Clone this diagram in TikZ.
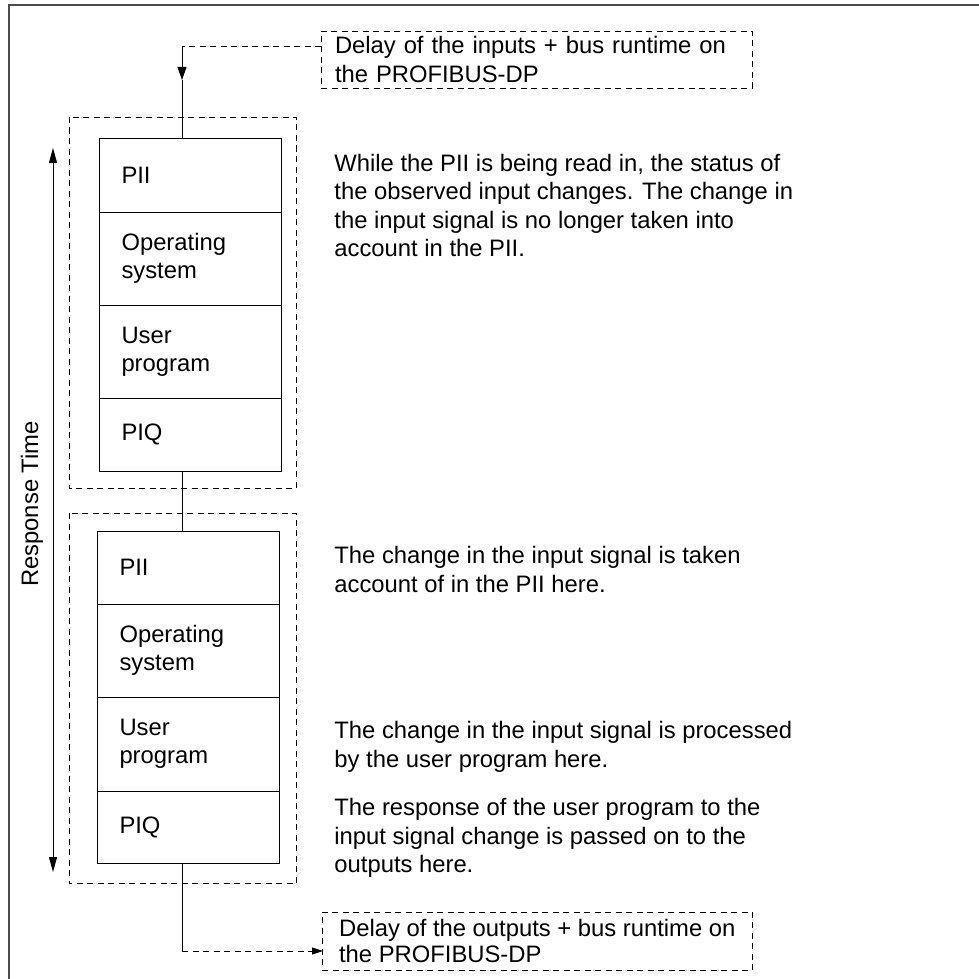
\documentclass[tikz,border=0pt]{standalone}
\usepackage{fontspec}
\setmainfont{Liberation Sans}
\usetikzlibrary{positioning,arrows.meta}

\tikzset{
  txt/.style={font=\fontsize{23.8}{28.3}\selectfont},
  row/.style={txt, draw, outer sep=0pt, minimum width=182pt, text width=138pt,
    inner xsep=22pt, inner ysep=0pt, align=left},
  dashline/.style={dashed, dash pattern=on 6pt off 4.5pt},
  delaybox/.style={dashline, draw, outer sep=0pt, inner ysep=0pt, align=left, anchor=north west},
  note/.style={txt, inner sep=0pt, align=left, anchor=north west},
}

\begin{document}
\begin{tikzpicture}[x=1pt,y=-1pt,line width=0.9pt]
\useasboundingbox (0,0) rectangle (978,979);
\draw[line width=1.4pt,black!70] (9,995) -- (9,5) -- (995,5);

% input delay
\node[delaybox,txt,minimum width=431pt,minimum height=57pt,text width=403pt,inner xsep=14pt]
  (indelay) at (321,31) {Delay of the inputs + bus runtime on\\the PROFIBUS-DP};

% first cycle
\draw[dashline] (69,117) rectangle (296,488);
\node[row,minimum height=74pt,anchor=north west] (pii1) at (99.5,138) {PII};
\node[row,minimum height=93pt,below=0pt of pii1] (os1) {Operating\\system};
\node[row,minimum height=93pt,below=0pt of os1] (up1) {User\\program};
\node[row,minimum height=73pt,below=0pt of up1] (piq1) {PIQ};

% second cycle
\draw[dashline] (69,513) rectangle (296,883.5);
\node[row,minimum height=73pt,anchor=north west] (pii2) at (97.5,531) {PII};
\node[row,minimum height=93pt,below=0pt of pii2] (os2) {Operating\\system};
\node[row,minimum height=94pt,below=0pt of os2] (up2) {User\\program};
\node[row,minimum height=72pt,below=0pt of up2] (piq2) {PIQ};

% output delay
\node[delaybox,minimum width=430.5pt,minimum height=58pt,inner xsep=4pt,
  font=\fontsize{23.8}{26}\selectfont]
  (outdelay) at (322,912) {Delay of the outputs + bus runtime on\\the PROFIBUS-DP};

% connectors
\coordinate (inbend) at (182,46);
\coordinate (inmid) at (182,80);
\coordinate (outbend) at (182,951);
\draw[dashline] (indelay.west |- inbend) -- (inbend);
\draw[-{Triangle[length=13pt,width=9pt]}] (inbend) -- (inmid);
\draw (inmid) -- (inmid |- pii1.north);
\draw (piq1.south -| inbend) -- (pii2.north -| inbend);
\draw (piq2.south -| outbend) -- (outbend);
\draw[dashline,-{Triangle[length=11pt,width=7pt]}] (outbend) -- ([xshift=1pt]outdelay.west |- outbend);

% response time
\coordinate (rttop) at (53,148);
\coordinate (rtbot) at (53,872);
\draw[{Triangle[length=15pt,width=8pt]}-{Triangle[length=15pt,width=8pt]}] (rtbot) -- (rttop);
\node[txt,rotate=90] (rtlabel) at (32,504) {Response Time};

% notes
\node[note] (note1) at (334,154) {While the PII is being read in, the status of\\the observed input changes. The change in\\the input signal is no longer taken into\\account in the PII.};
\node[note] (note2) at (334,546) {The change in the input signal is taken\\account of in the PII here.};
\node[note] (note3) at (334,721) {The change in the input signal is processed\\by the user program here.};
\node[note] (note4) at (334,798) {The response of the user program to the\\input signal change is passed on to the\\outputs here.};
\end{tikzpicture}
\end{document}
